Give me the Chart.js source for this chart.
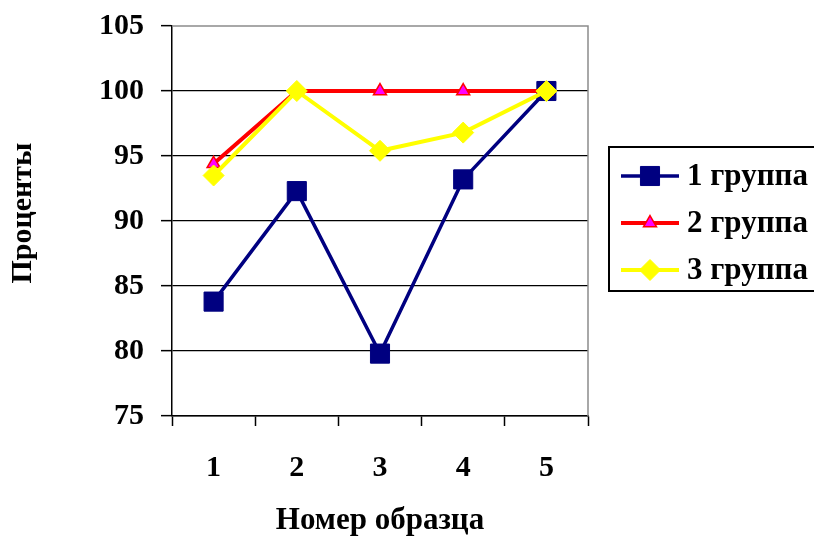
<!DOCTYPE html>
<html>
<head>
<meta charset="utf-8">
<script src="https://cdn.jsdelivr.net/npm/chart.js@4/dist/chart.umd.min.js"></script>
<style>
  html, body { margin: 0; padding: 0; background: #ffffff; }
  #wrap { width: 814px; height: 540px; }
</style>
</head>
<body>
<div id="wrap"><canvas id="chart" width="814" height="540"></canvas></div>
<script>
// Sample numbers on the x axis
const categories = ['1', '2', '3', '4', '5'];

// Percent values per group
const group1 = [83.8, 92.3, 79.8, 93.2, 100];
const group2 = [94.4, 100, 100, 100, 100];
const group3 = [93.5, 100, 95.4, 96.8, 100];

const seriesNames = ['1 группа', '2 группа', '3 группа'];

// Value axis range
const yMin = 75;
const yMax = 105;
const yStep = 5;

const xTitle = 'Номер образца';
const yTitle = 'Проценты';

const FONT_FAMILY = "'Liberation Serif', 'Times New Roman', serif";
const boldFont = (size) => ({ family: FONT_FAMILY, size: size, weight: 'bold' });

// Grey frame on the top and right of the plot area
const plotFrame = {
  id: 'plotFrame',
  beforeDatasetsDraw(chart) {
    const { ctx, chartArea: a } = chart;
    ctx.save();
    ctx.strokeStyle = '#8c8c8c';
    ctx.lineWidth = 1.5;
    ctx.beginPath();
    ctx.moveTo(a.left, a.top);
    ctx.lineTo(a.right, a.top);
    ctx.lineTo(a.right, a.bottom);
    ctx.stroke();
    ctx.restore();
  }
};

// Vertical title of the value axis, set a little above the plot's middle
const valueAxisTitle = {
  id: 'valueAxisTitle',
  afterDraw(chart) {
    const { ctx } = chart;
    ctx.save();
    ctx.translate(23, 213);
    ctx.rotate(-Math.PI / 2);
    ctx.fillStyle = '#000000';
    ctx.font = 'bold 30px ' + FONT_FAMILY;
    ctx.textAlign = 'center';
    ctx.textBaseline = 'middle';
    ctx.fillText(yTitle, 0, 0);
    ctx.restore();
  }
};

// Boxed legend to the right of the plot
const boxLegend = {
  id: 'boxLegend',
  afterDraw(chart) {
    const { ctx } = chart;
    const boxX = 609, boxY = 147, boxW = 260, boxH = 144;
    const rowY0 = 176, rowStep = 47;
    ctx.save();
    ctx.strokeStyle = '#000000';
    ctx.lineWidth = 2;
    ctx.strokeRect(boxX, boxY, boxW, boxH);
    chart.data.datasets.forEach((ds, i) => {
      const y = rowY0 + i * rowStep;
      ctx.strokeStyle = ds.borderColor;
      ctx.lineWidth = ds.borderWidth;
      ctx.beginPath();
      ctx.moveTo(621, y);
      ctx.lineTo(679, y);
      ctx.stroke();
      ctx.fillStyle = ds.pointBackgroundColor;
      ctx.strokeStyle = ds.pointBorderColor;
      ctx.lineWidth = ds.pointBorderWidth;
      Chart.helpers.drawPoint(ctx, {
        pointStyle: ds.pointStyle,
        radius: ds.pointRadius,
        rotation: 0,
        borderWidth: ds.pointBorderWidth
      }, 650, y);
      ctx.fillStyle = '#000000';
      ctx.font = 'bold 31px ' + FONT_FAMILY;
      ctx.textAlign = 'left';
      ctx.textBaseline = 'middle';
      ctx.fillText(ds.label, 687, y + 1);
    });
    ctx.restore();
  }
};

new Chart(document.getElementById('chart'), {
  type: 'line',
  data: {
    labels: categories,
    datasets: [
      {
        label: seriesNames[0],
        data: group1,
        borderColor: '#000080',
        backgroundColor: '#000080',
        borderWidth: 3.5,
        pointStyle: 'rect',
        pointRadius: 13.5,
        pointHoverRadius: 13.5,
        pointBackgroundColor: '#000080',
        pointBorderColor: '#000080',
        pointBorderWidth: 1,
        order: 3
      },
      {
        label: seriesNames[1],
        data: group2,
        borderColor: '#ff0000',
        backgroundColor: '#ff00ff',
        borderWidth: 4,
        pointStyle: 'triangle',
        pointRadius: 7.5,
        pointHoverRadius: 7.5,
        pointBackgroundColor: '#ff00ff',
        pointBorderColor: '#ff0000',
        pointBorderWidth: 1.5,
        order: 2
      },
      {
        label: seriesNames[2],
        data: group3,
        borderColor: '#ffff00',
        backgroundColor: '#ffff00',
        borderWidth: 4,
        pointStyle: 'rectRot',
        pointRadius: 10.5,
        pointHoverRadius: 10.5,
        pointBackgroundColor: '#ffff00',
        pointBorderColor: '#ffff00',
        pointBorderWidth: 1,
        order: 1
      }
    ]
  },
  options: {
    responsive: false,
    animation: false,
    devicePixelRatio: 1,
    layout: { padding: { left: 0, top: 26, right: 226, bottom: 0 } },
    plugins: {
      legend: { display: false },
      tooltip: { enabled: false }
    },
    elements: { line: { tension: 0 } },
    scales: {
      x: {
        type: 'category',
        offset: true,
        grid: {
          offset: true,
          drawOnChartArea: false,
          drawTicks: true,
          tickLength: 10,
          tickColor: '#000000',
          tickWidth: 1.5,
          color: '#000000'
        },
        border: { display: true, color: '#000000', width: 1.5 },
        ticks: {
          color: '#000000',
          font: boldFont(30),
          padding: 24,
          maxRotation: 0
        },
        title: {
          display: true,
          text: xTitle,
          color: '#000000',
          font: boldFont(31),
          padding: { top: 0, bottom: 0 }
        },
        afterFit(scale) {
          scale.height = 124;
          scale.paddingLeft = 0;
          scale.paddingRight = 0;
        }
      },
      y: {
        min: yMin,
        max: yMax,
        ticks: {
          stepSize: yStep,
          color: '#000000',
          font: boldFont(30),
          padding: 17
        },
        grid: {
          color: (c) => (c.tick && c.tick.value === yMax) ? 'rgba(0,0,0,0)' : '#000000',
          lineWidth: 1.3,
          tickLength: 11,
          tickColor: '#000000',
          tickWidth: 1.5
        },
        border: { display: true, color: '#000000', width: 1.5 },
        title: { display: false },
        afterFit(scale) {
          scale.width = 172;
          scale.paddingTop = 0;
          scale.paddingBottom = 0;
        }
      }
    }
  },
  plugins: [plotFrame, valueAxisTitle, boxLegend]
});
</script>
</body>
</html>
